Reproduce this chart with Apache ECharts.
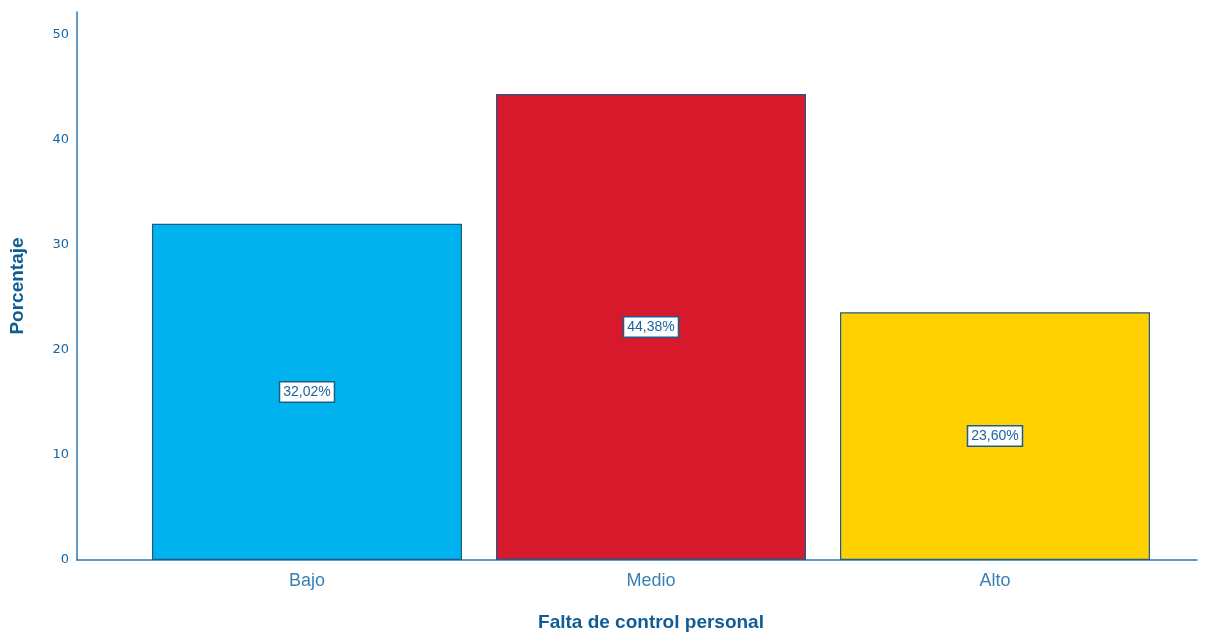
<!DOCTYPE html>
<html><head><meta charset="utf-8">
<script src="https://cdn.jsdelivr.net/npm/echarts@6/dist/echarts.min.js"></script>
<style>html,body{margin:0;padding:0;background:#fff}#c{width:1209px;height:633px}</style>
</head><body><div id="c"></div>
<script>
const categories = ['Bajo', 'Medio', 'Alto'];
const values = [32.02, 44.38, 23.60];
const labels = ['32,02%', '44,38%', '23,60%'];
const colors = ['#00b2ee', '#d7192c', '#ffd100'];

const axisBlue = '#2f78b0';
const textBlue = '#1a65a0';
const yMax = 52.2;
const chart = echarts.init(document.getElementById('c'));
chart.setOption({
  animation: false,
  grid: [
    {left: 77, right: 12, top: 12, bottom: 73, outerBoundsMode: 'none', containLabel: false},
    {left: 135, right: 42, top: 12, bottom: 73, outerBoundsMode: 'none', containLabel: false}
  ],
  xAxis: [
    {gridIndex: 0, type: 'value', min: 0, max: 1,
     axisLine: {show: true, lineStyle: {color: axisBlue, width: 1.5}},
     axisTick: {show: false}, axisLabel: {show: false}, splitLine: {show: false}},
    {gridIndex: 1, type: 'category', data: categories,
     axisLine: {show: false}, axisTick: {show: false},
     axisLabel: {color: '#3b80b5', fontSize: 18, fontFamily: 'Liberation Sans', margin: 12},
     name: 'Falta de control personal', nameLocation: 'middle', nameGap: 53,
     nameTextStyle: {color: '#0e5d94', fontSize: 19, fontWeight: 'bold', fontFamily: 'Liberation Sans'}}
  ],
  yAxis: [
    {gridIndex: 0, type: 'value', min: 0, max: yMax, interval: 10,
     axisLine: {show: true, lineStyle: {color: axisBlue, width: 1.5}},
     axisTick: {show: false}, splitLine: {show: false},
     axisLabel: {color: textBlue, fontSize: 13, fontFamily: 'DejaVu Sans', margin: 8, showMaxLabel: false},
     name: 'Porcentaje', nameLocation: 'middle', nameGap: 50, nameRotate: 90,
     nameTextStyle: {color: '#0e5d94', fontSize: 19, fontWeight: 'bold', fontFamily: 'Liberation Sans'}},
    {gridIndex: 1, type: 'value', min: 0, max: yMax, show: false}
  ],
  series: [{
    type: 'bar', xAxisIndex: 1, yAxisIndex: 1, barWidth: 310,
    data: values.map((v, i) => ({value: v, itemStyle: {color: colors[i]}})),
    itemStyle: {borderColor: '#1c5d8f', borderWidth: 1.2},
    label: {show: true, position: 'inside', formatter: p => labels[p.dataIndex],
      color: textBlue, fontSize: 14, fontFamily: 'Liberation Sans',
      backgroundColor: '#fff', borderColor: '#1c5d8f', borderWidth: 1.5, padding: [3, 3, 2, 3]}
  }]
});
</script></body></html>
